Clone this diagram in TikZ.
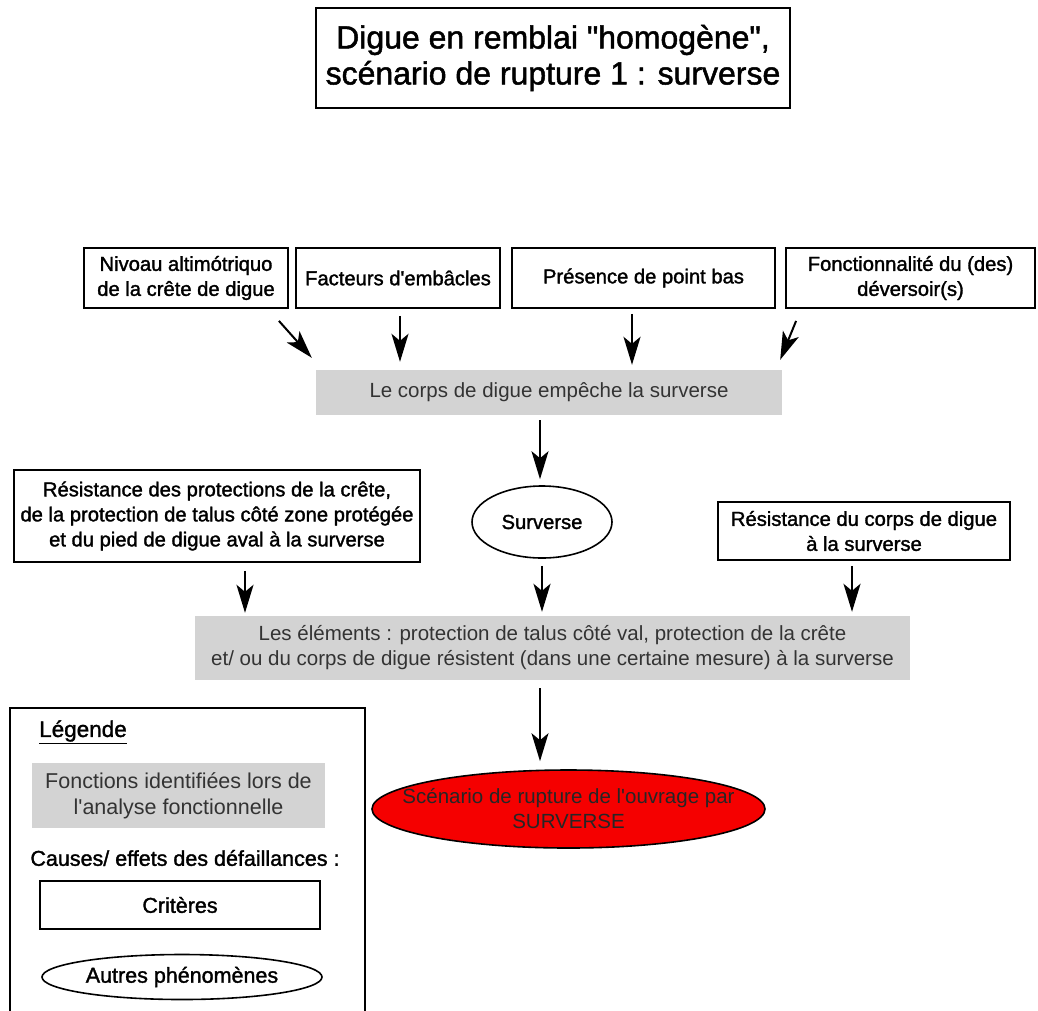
\documentclass[tikz,border=0pt]{standalone}
\usepackage{fontspec}
\setmainfont{Liberation Sans}[Ligatures=TeXOff]
\newfontface\critfont{Liberation Sans}[Ligatures=TeXOff,FakeBold=1.5]
\usetikzlibrary{shapes.geometric,arrows.meta}
\definecolor{fonctgris}{RGB}{211,211,211}
\definecolor{rouge}{RGB}{245,0,0}
\newcommand{\txt}{\fontsize{20.5}{25}\selectfont}
\newcommand{\crittxt}{\critfont\fontsize{20.2}{25}\selectfont}
\newcommand{\legtxt}{\critfont\fontsize{21.5}{25}\selectfont}

\begin{document}
\begin{tikzpicture}[x=1pt,y=-1pt,
  critere/.style={draw,line width=1.8pt,align=center,font=\crittxt,inner sep=2pt},
  fonction/.style={fill=fonctgris,align=center,font=\txt,text=black!80,inner sep=2pt},
  phenomene/.style={draw,ellipse,line width=1.6pt,align=center,font=\crittxt,inner sep=0pt},
  fleche/.style={-{Stealth[length=28pt,width=17pt,inset=7pt]},line width=2pt}]
  \clip (0,0) rectangle (1038,1010);
  \fill[white] (0,0) rectangle (1038,1010);
  % titre
  \node[draw,line width=2.2pt,align=center,font=\critfont\fontsize{32}{36}\selectfont,
    minimum width=474pt,minimum height=100pt] (titre) at (553,58)
    {Digue en remblai "homogène",\\scénario de rupture 1 : surverse};
  % criteres du haut
  \node[critere,minimum width=204pt,minimum height=60pt] (n1) at (186,278)
    {Nivoau altimótriquo\\de la crête de digue};
  \node[critere,minimum width=204pt,minimum height=60pt] (n2) at (398,278)
    {Facteurs d'embâcles};
  \node[critere,minimum width=263pt,minimum height=60pt] (n3) at (643.5,278)
    {Présence de point bas};
  \node[critere,minimum width=249pt,minimum height=60pt] (n4) at (910.5,278)
    {Fonctionnalité du (des)\\déversoir(s)};
  \node[fonction,minimum width=466pt,minimum height=45pt] (f1) at (549,392.5)
    {Le corps de digue empêche la surverse};
  % surverse
  \node[phenomene,minimum width=140pt,minimum height=72pt] (s) at (542,522) {Surverse};
  \node[critere,minimum width=406pt,minimum height=92pt] (r1) at (217,516)
    {Résistance des protections de la crête,\\de la protection de talus côté zone protégée\\et du pied de digue aval à la surverse};
  \node[critere,minimum width=292pt,minimum height=58pt] (r2) at (864,531)
    {Résistance du corps de digue\\à la surverse};
  \node[fonction,minimum width=715pt,minimum height=64pt] (f2) at (552.5,648)
    {Les éléments : protection de talus côté val, protection de la crête\\et/ ou du corps de digue résistent (dans une certaine mesure) à la surverse};
  \node[phenomene,fill=rouge,minimum width=393pt,minimum height=78pt,
    label={[font=\txt,align=center,text=black!85]center:Scénario de rupture de l'ouvrage par\\SURVERSE}] (scen) at (568.5,809) {};
  % fleches
  \draw[fleche] ([xshift=-10pt,yshift=-12pt]n1.south east) -- ([xshift=-4pt,yshift=12pt]f1.north west);
  \draw[fleche] ([xshift=2pt,yshift=-7pt]n2.south) -- ([xshift=2pt,yshift=8pt]n2.south |- f1.north);
  \draw[fleche] ([xshift=-11.5pt,yshift=-5pt]n3.south) -- ([xshift=-11.5pt,yshift=5pt]n3.south |- f1.north);
  \draw[fleche] ([xshift=11pt,yshift=-12pt]n4.south west) -- ([xshift=-2pt,yshift=10pt]f1.north east);
  \draw[fleche] ([xshift=-9pt,yshift=-5pt]f1.south) -- ([xshift=-2pt,yshift=6pt]s.north);
  \draw[fleche] ([xshift=28pt,yshift=-8pt]r1.south) -- ([xshift=28pt,yshift=3pt]r1.south |- f2.north);
  \draw[fleche] ([yshift=-7pt]s.south) -- ([yshift=4pt]s.south |- f2.north);
  \draw[fleche] ([xshift=-12pt,yshift=-5pt]r2.south) -- ([xshift=-12pt,yshift=4pt]r2.south |- f2.north);
  \draw[fleche] ([xshift=-12.5pt,yshift=-8pt]f2.south) -- ([xshift=-12.5pt,yshift=8pt]f2.south |- scen.north);
  % legende
  \draw[line width=1.6pt] (10,708) rectangle (365,1040);
  \node[font=\critfont\fontsize{22.5}{25}\selectfont,anchor=west,inner sep=0pt] (leg) at (39,732) {\underline{Légende}};
  \node[fonction,font=\fontsize{21.5}{26}\selectfont,minimum width=293pt,minimum height=65pt] (lf) at (178.5,795.5)
    {Fonctions identifiées lors de\\l'analyse fonctionnelle};
  \node[font=\legtxt] (lcause) at (185,858) {Causes/ effets des défaillances :};
  \node[critere,font=\legtxt,minimum width=280pt,minimum height=48pt] (lc) at (180,905) {Critères};
  \node[phenomene,minimum width=280pt,minimum height=45pt,
    label={[font=\legtxt]center:Autres phénomènes}] (lp) at (182,977) {};
\end{tikzpicture}
\end{document}
